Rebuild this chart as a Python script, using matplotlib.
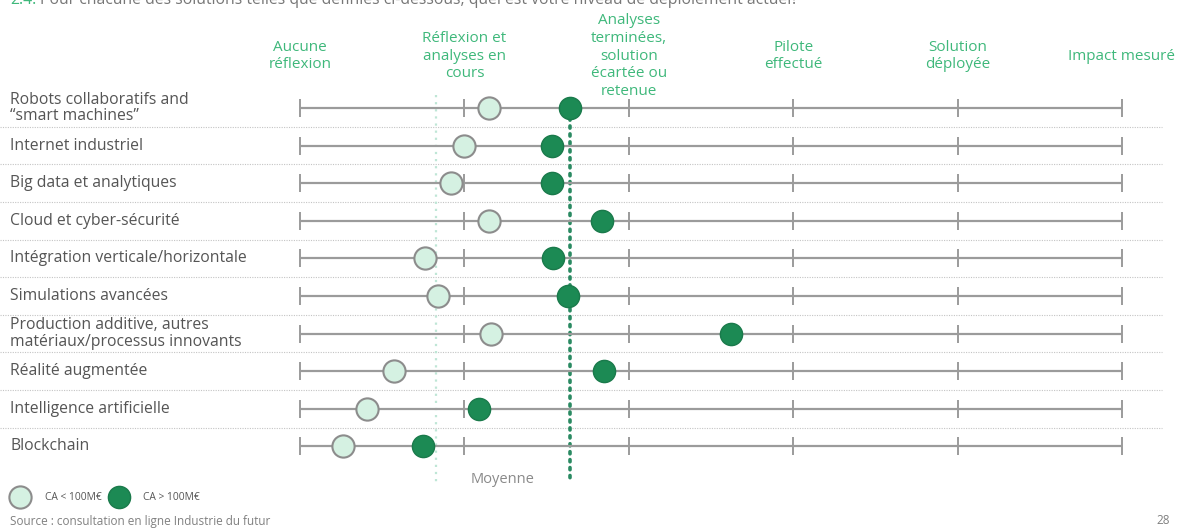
import matplotlib
matplotlib.use("Agg")
import matplotlib.pyplot as plt
import matplotlib.transforms as mtransforms
import numpy as np

plt.rcParams['font.family'] = ['Open Sans', 'DejaVu Sans']

# --- data -------------------------------------------------------------
solutions = [
    "Robots collaboratifs and\n\u201csmart machines\u201d",
    "Internet industriel",
    "Big data et analytiques",
    "Cloud et cyber-sécurité",
    "Intégration verticale/horizontale",
    "Simulations avancées",
    "Production additive, autres\nmatériaux/processus innovants",
    "Réalité augmentée",
    "Intelligence artificielle",
    "Blockchain",
]
niveaux = [
    "Aucune\nréflexion",
    "Réflexion et\nanalyses en\ncours",
    "Analyses\nterminées,\nsolution\nécartée ou\nretenue",
    "Pilote\neffectué",
    "Solution\ndéployée",
    "Impact mesuré",
]
ca_petit = [1.15, 1.00, 0.92, 1.15, 0.76, 0.84, 1.16, 0.57, 0.41, 0.26]   # CA < 100M€
ca_grand = [1.64, 1.53, 1.53, 1.84, 1.54, 1.63, 2.62, 1.85, 1.09, 0.75]   # CA > 100M€
moyenne_petit = 0.83
moyenne_grand = 1.64

# --- style -------------------------------------------------------------
GREEN_TXT = "#3fb87b"
DARK = "#1c8a54"
LIGHT = "#d5f1e2"
LINE = "#9b9b9b"
TXT = "#555555"

W, H = 1177, 529
fig = plt.figure(figsize=(W / 100, H / 100), dpi=100)
ax = fig.add_axes([0, 0, 1, 1])
ax.axis("off")

# one level unit = 164.4 px, level 0 at x=300 px; one row = 37.6 px, first row at y=108 px
ax.set_xlim(-300 / 164.4, (W - 300) / 164.4)
ax.set_ylim((H - 108) / 37.6, -108 / 37.6)

n = len(solutions)
rows = np.arange(n)
levels = np.arange(len(niveaux))

# scale lines with ticks
for r in rows:
    ax.plot([levels[0], levels[-1]], [r, r], color=LINE, lw=1.6, zorder=1,
            solid_capstyle="butt")
    ax.plot(levels, np.full(len(levels), r), linestyle="none", marker="|",
            markersize=12.5, markeredgewidth=1.4, color=LINE, zorder=1)

# row separators
sep_tr = mtransforms.blended_transform_factory(ax.transAxes, ax.transData)
for r in rows[:-1]:
    ax.plot([0, 1162 / W], [r + 0.5, r + 0.5], transform=sep_tr,
            color="#c4c4c4", lw=0.8, linestyle=(0, (1, 1.2)), zorder=0)

# average lines
ax.plot([moyenne_petit, moyenne_petit], [-0.35, 9.97], color="#bfe6d6",
        lw=1.6, linestyle=(0, (1, 2.2)), zorder=0.5)
ax.plot([moyenne_grand, moyenne_grand], [0.27, 9.92], color="#2a8a62",
        lw=2.6, linestyle=(0, (0.6, 1.6)), dash_capstyle="round", zorder=0.5)
ax.text((moyenne_petit + moyenne_grand) / 2, 9.87, "Moyenne", ha="center",
        va="center", fontsize=10.5, color="#8a8a8a")

# markers
sc1 = ax.scatter(ca_petit, rows, s=16 ** 2, color=LIGHT, edgecolor="#8c8c8c",
                 linewidths=1.5, zorder=3, label="CA < 100M€")
sc2 = ax.scatter(ca_grand, rows, s=16 ** 2, color=DARK, edgecolor="#1a7a4b",
                 linewidths=1.0, zorder=3, label="CA > 100M€")

# row labels
for r, lab in zip(rows, solutions):
    ax.text(10 / W, r, lab, transform=sep_tr, ha="left", va="center",
            fontsize=11.3, color=TXT, linespacing=1.07)

# level headers
hdr_tr = mtransforms.blended_transform_factory(ax.transData, fig.transFigure)
for lv, lab in zip(levels, niveaux):
    ax.text(lv, 1 - 56 / H, lab, transform=hdr_tr, ha="center", va="center",
            fontsize=11, color=GREEN_TXT, linespacing=1.25)

# question running off the top edge
t1 = fig.text(10 / W, 1 - 4 / H, "2.4.", ha="left", va="baseline",
              fontsize=11.3, color=GREEN_TXT)
fig.canvas.draw()
bb = t1.get_window_extent()
fig.text((bb.x1 + 4) / W, 1 - 4 / H,
         "Pour chacune des solutions telles que définies ci-dessous, quel est votre niveau de déploiement actuel?",
         ha="left", va="baseline", fontsize=11.3, color="#777777")

# legend
ax.legend(handles=[sc1, sc2], loc="center left", ncol=2, frameon=False,
          bbox_to_anchor=(14 / W, 1 - 497 / H), bbox_transform=fig.transFigure,
          fontsize=7.4, labelcolor=TXT, handlelength=1.2, handletextpad=1.8,
          columnspacing=1.05, borderpad=0, borderaxespad=0)

# footer
fig.text(10 / W, 1 - 521 / H, "Source : consultation en ligne Industrie du futur",
         ha="left", va="center", fontsize=8.5, color="#808080")
fig.text(1170 / W, 1 - 521 / H, "28", ha="right", va="center",
         fontsize=8.5, color="#808080")

fig.savefig("out.png", dpi=100)
